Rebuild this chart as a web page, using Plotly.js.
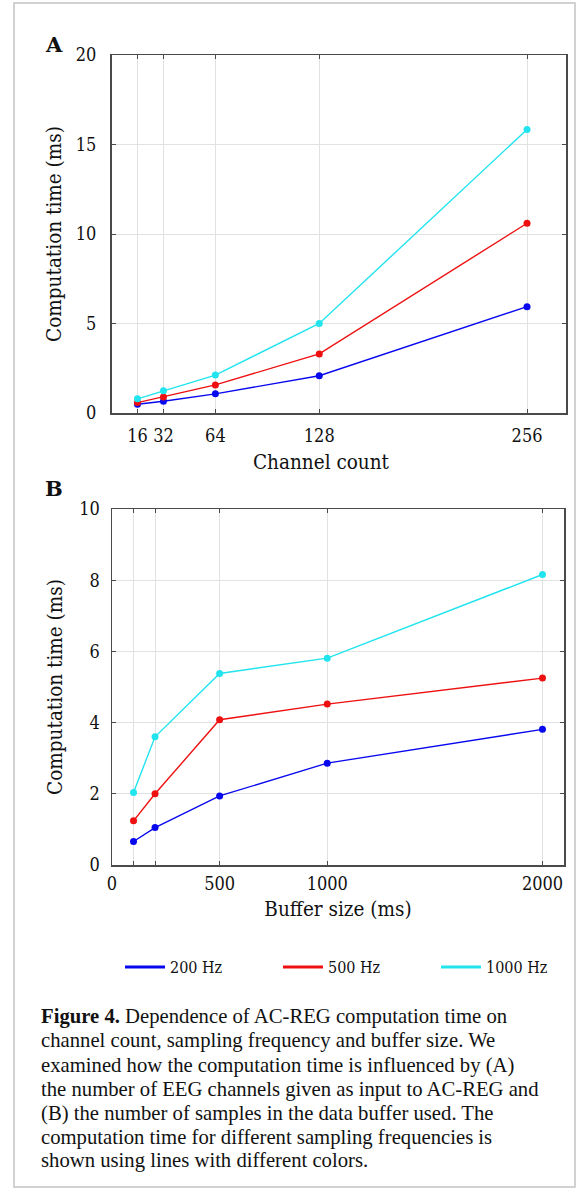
<!DOCTYPE html>
<html>
<head>
<meta charset="utf-8">
<script src="https://cdn.plot.ly/plotly-3.0.1.min.js"></script>
<style>
html, body { margin: 0; padding: 0; background: #ffffff; }
#chart { width: 581px; height: 1191px; }
</style>
</head>
<body>
<div id="chart"></div>
<script>
// ---- Data ----
const channels = [16, 32, 64, 128, 256];
const chanTime200 = [0.49, 0.66, 1.07, 2.08, 5.94];
const chanTime500 = [0.58, 0.90, 1.57, 3.30, 10.6];
const chanTime1000 = [0.79, 1.24, 2.12, 5.00, 15.84];

const buffers = [100, 200, 500, 1000, 2000];
const bufTime200 = [0.66, 1.05, 1.94, 2.86, 3.81];
const bufTime500 = [1.24, 2.00, 4.08, 4.52, 5.25];
const bufTime1000 = [2.04, 3.60, 5.38, 5.81, 8.16];

const seriesNames = ['200 Hz', '500 Hz', '1000 Hz'];
const seriesColors = ['#0808ee', '#ee1010', '#22e4ee'];

const yTicksA = [0, 5, 10, 15, 20];
const yTicksB = [0, 2, 4, 6, 8, 10];
const bufTickVals = [0, 100, 200, 500, 1000, 2000];
const bufTickText = ['0', '', '', '500', '1000', '2000'];

const captionLines = [
  '<b>Figure 4.</b> Dependence of AC-REG computation time on',
  'channel count, sampling frequency and buffer size. We',
  'examined how the computation time is influenced by (A)',
  'the number of EEG channels given as input to AC-REG and',
  '(B) the number of samples in the data buffer used. The',
  'computation time for different sampling frequencies is',
  'shown using lines with different colors.'
];

// ---- Layout helpers (pixel -> paper) ----
const W = 581, H = 1191;
const px = v => v / W;
const py = v => 1 - v / H;

const axisFont = 'DejaVu Serif Condensed, DejaVu Serif, serif';
const captionFont = 'Liberation Serif, Times New Roman, serif';
const titleFont = { family: axisFont, size: 20.5, color: '#111' };

const chanSeries = [chanTime200, chanTime500, chanTime1000];
const bufSeries = [bufTime200, bufTime500, bufTime1000];

const traces = [];
chanSeries.forEach((ys, i) => {
  traces.push({
    x: channels, y: ys, xaxis: 'x', yaxis: 'y',
    mode: 'lines+markers', name: seriesNames[i], showlegend: false,
    line: { color: seriesColors[i], width: 1.4 },
    marker: { color: seriesColors[i], size: 7 }
  });
});
bufSeries.forEach((ys, i) => {
  traces.push({
    x: buffers, y: ys, xaxis: 'x2', yaxis: 'y2',
    mode: 'lines+markers', name: seriesNames[i], showlegend: false,
    line: { color: seriesColors[i], width: 1.4 },
    marker: { color: seriesColors[i], size: 7 }
  });
});
// legend entries (line only, thick)
seriesNames.forEach((n, i) => {
  traces.push({
    x: [null], y: [null], xaxis: 'x2', yaxis: 'y2',
    mode: 'lines', name: n, showlegend: true, hoverinfo: 'skip',
    line: { color: seriesColors[i], width: 3 }
  });
});

const commonAxis = {
  showgrid: true, gridcolor: '#e2e2e2', gridwidth: 1,
  showline: true, linecolor: '#4a4a4a', linewidth: 1.5, mirror: 'ticks',
  ticks: 'inside', ticklen: 4, tickcolor: '#4a4a4a', tickwidth: 1,
  zeroline: false, fixedrange: true,
  tickfont: { family: axisFont, size: 18, color: '#111' }
};

const annotations = [
  { text: '<b>A</b>', x: px(54), y: py(44), xref: 'paper', yref: 'paper',
    showarrow: false, xanchor: 'center', yanchor: 'middle',
    font: { family: 'DejaVu Serif, serif', size: 21, color: '#111' } },
  { text: '<b>B</b>', x: px(54), y: py(488), xref: 'paper', yref: 'paper',
    showarrow: false, xanchor: 'center', yanchor: 'middle',
    font: { family: 'DejaVu Serif, serif', size: 21, color: '#111' } },
  // x-axis title of panel A (placed as in the reference, slightly left of centre)
  { text: 'Channel count', x: px(321), y: py(462), xref: 'paper', yref: 'paper',
    showarrow: false, xanchor: 'center', yanchor: 'middle', font: titleFont }
];
const captionY = [1016, 1040, 1065, 1089, 1113, 1137, 1160];
captionLines.forEach((t, i) => {
  annotations.push({
    text: t, x: px(39), y: py(captionY[i]), xref: 'paper', yref: 'paper',
    showarrow: false, xanchor: 'left', yanchor: 'middle', align: 'left',
    font: { family: captionFont, size: 20.7, color: '#111' }
  });
});

const layout = {
  width: W, height: H,
  margin: { l: 0, r: 0, t: 0, b: 0, autoexpand: false },
  paper_bgcolor: '#ffffff', plot_bgcolor: '#ffffff',
  xaxis: Object.assign({}, commonAxis, {
    domain: [px(111.5), px(566)], range: [0, 280], anchor: 'y',
    tickmode: 'array', tickvals: channels, ticktext: channels.map(String),
    ticklabelstandoff: 6
  }),
  yaxis: Object.assign({}, commonAxis, {
    domain: [py(413), py(55)], range: [0, 20], anchor: 'x',
    tickmode: 'array', tickvals: yTicksA, ticktext: yTicksA.map(String),
    ticklabelstandoff: 10,
    title: { text: 'Computation time (ms)', standoff: 8, font: titleFont }
  }),
  xaxis2: Object.assign({}, commonAxis, {
    domain: [px(112), px(564)], range: [0, 2100], anchor: 'y2',
    tickmode: 'array', tickvals: bufTickVals, ticktext: bufTickText,
    ticklabelstandoff: 2,
    title: { text: 'Buffer size (ms)', standoff: 8, font: titleFont }
  }),
  yaxis2: Object.assign({}, commonAxis, {
    domain: [py(865), py(509)], range: [0, 10], anchor: 'x2',
    tickmode: 'array', tickvals: yTicksB, ticktext: yTicksB.map(String),
    ticklabelstandoff: 7,
    title: { text: 'Computation time (ms)', standoff: 11, font: titleFont }
  }),
  showlegend: true,
  legend: {
    orientation: 'h', x: px(120), xanchor: 'left', y: py(967), yanchor: 'middle',
    entrywidth: 103, entrywidthmode: 'pixels', itemwidth: 40,
    bgcolor: 'rgba(0,0,0,0)', borderwidth: 0,
    font: { family: axisFont, size: 16, color: '#111' },
    itemclick: false, itemdoubleclick: false
  },
  shapes: [
    { type: 'rect', xref: 'paper', yref: 'paper',
      x0: px(14), x1: px(575), y0: py(1187), y1: py(3),
      line: { color: '#c4c4c4', width: 1.5 }, fillcolor: 'rgba(0,0,0,0)', layer: 'below' }
  ],
  annotations: annotations
};

Plotly.newPlot('chart', traces, layout, { displayModeBar: false, staticPlot: true });
</script>
</body>
</html>
